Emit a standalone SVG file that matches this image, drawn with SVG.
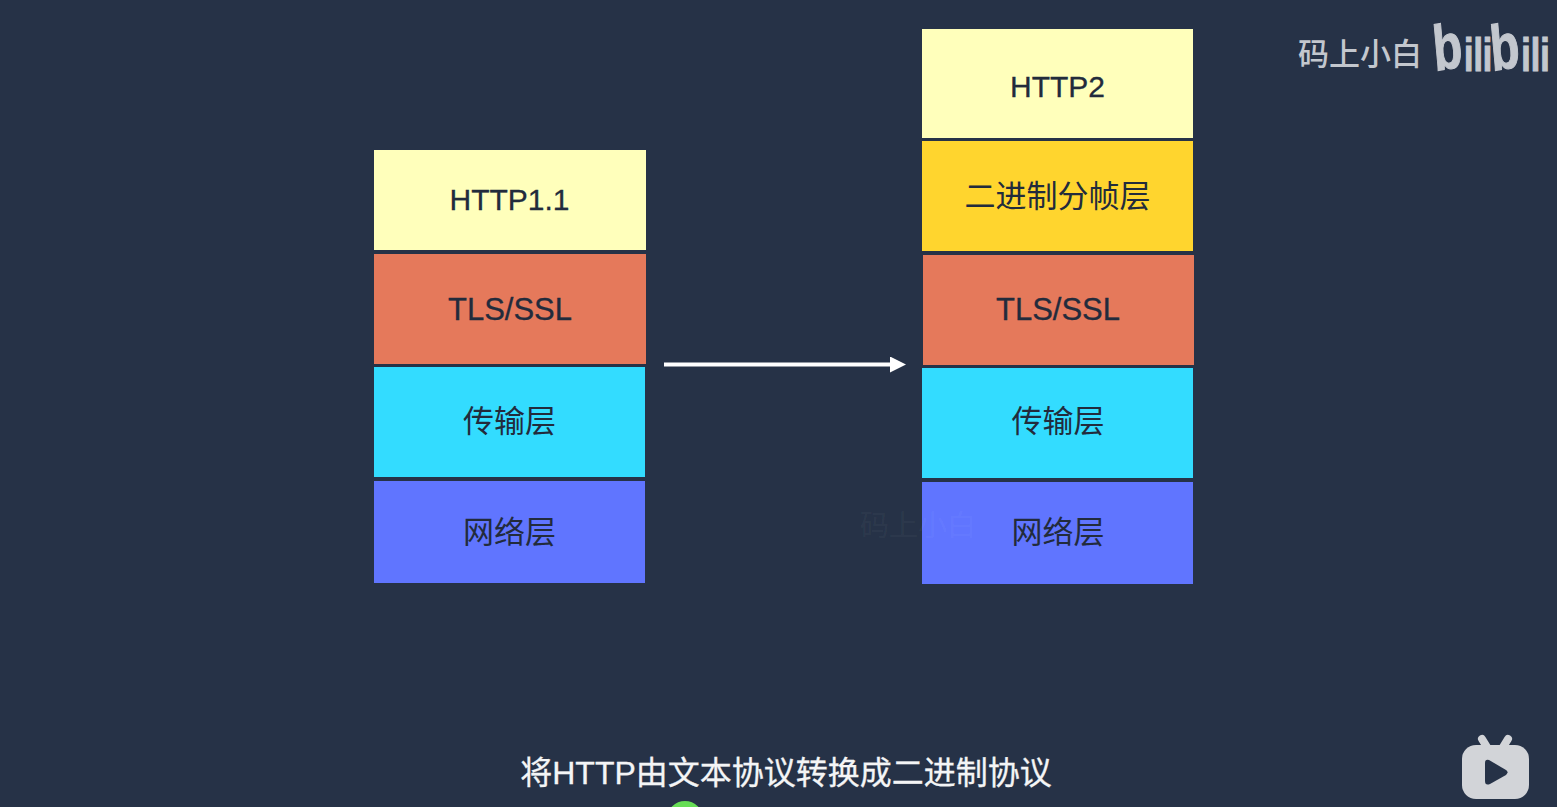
<svg xmlns="http://www.w3.org/2000/svg" width="1557" height="807" viewBox="0 0 1557 807">
<style>
.l{font-family:"Liberation Sans","Noto Sans CJK SC",sans-serif;font-size:31px;fill:#222b3c;text-anchor:middle;stroke:#222b3c;stroke-width:.3}
.h{font-size:30px}
.c{font-family:"Noto Sans CJK SC","Liberation Sans",sans-serif;font-size:31px;fill:#222b3c;text-anchor:middle}
.y{fill:#ffffbb}.g{fill:#ffd52e}.o{fill:#e5795b}.b{fill:#33dcff}.p{fill:#6075ff}
.conn{stroke:#fff;stroke-width:4;fill:none}
</style>
<defs><marker id="a" markerUnits="userSpaceOnUse" markerWidth="18" markerHeight="18" refX="3" refY="8" orient="auto"><path d="M0 0L16 8L0 16Z" fill="#fff"/></marker></defs>
<rect width="1557" height="807" fill="#263247"/>
<g id="n-http11"><rect class="y" x="374" y="150" width="272" height="100"/><text class="l h" x="509.500" y="210">HTTP1.1</text></g>
<g id="n-tls1"><rect class="o" x="374" y="254" width="272" height="110"/><text class="l" x="510" y="320">TLS/SSL</text></g>
<g id="n-trans1"><rect class="b" x="374" y="367" width="271" height="110"/><text class="c" x="509.500" y="432">传输层</text></g>
<g id="n-net1"><rect class="p" x="374" y="481" width="271" height="102"/><text class="c" x="509.500" y="543">网络层</text></g>
<g id="n-http2"><rect class="y" x="922" y="29" width="271" height="109"/><text class="l h" x="1057.500" y="97">HTTP2</text></g>
<g id="n-frame"><rect class="g" x="922" y="141" width="271" height="110"/><text class="c" x="1057.500" y="207">二进制分帧层</text></g>
<g id="n-tls2"><rect class="o" x="923" y="255" width="271" height="110"/><text class="l" x="1058" y="320">TLS/SSL</text></g>
<g id="n-trans2"><rect class="b" x="922" y="368" width="271" height="110"/><text class="c" x="1058" y="432">传输层</text></g>
<g id="n-net2"><rect class="p" x="922" y="482" width="271" height="102"/><text class="c" x="1058" y="543">网络层</text></g>
<g id="connectors"><path class="conn" d="M664 364.500H893" marker-end="url(#a)"/></g>
<text x="918" y="536" font-family="Noto Sans CJK SC,sans-serif" font-size="29" fill="#fff" fill-opacity=".05" text-anchor="middle">码上小白</text>
<text x="1360" y="65" font-family="Noto Sans CJK SC,sans-serif" font-size="31" font-weight="500" fill="#c3c7ce" text-anchor="middle">码上小白</text>
<text transform="translate(1435 71) scale(.74 1)" font-family="Liberation Sans,sans-serif" font-weight="700" fill="#c3c7ce" stroke="#c3c7ce" stroke-width="1.200" font-size="46" rotate="-7 0 0 0 -7 0 0 0"><tspan font-size="64">b</tspan>ili<tspan font-size="64">b</tspan>ili</text>
<text x="786" y="784" font-family="Liberation Sans,Noto Sans CJK SC,sans-serif" font-size="32" fill="#f4f5f6" text-anchor="middle" stroke="#f4f5f6" stroke-width=".3">将HTTP由文本协议转换成二进制协议</text>
<circle cx="685" cy="819" r="18" fill="#66dd55"/>
<g id="tv"><path d="M1482 739L1490 752M1508 739L1500 752" stroke="#d2d4d8" stroke-width="8" stroke-linecap="round"/><rect x="1462" y="745" width="67" height="54" rx="14" fill="#d2d4d8"/><path d="M1489 760Q1485 759 1485 763V781Q1485 786 1490 784L1506 775Q1509 772 1506 770Z" fill="#263247"/></g>
</svg>
